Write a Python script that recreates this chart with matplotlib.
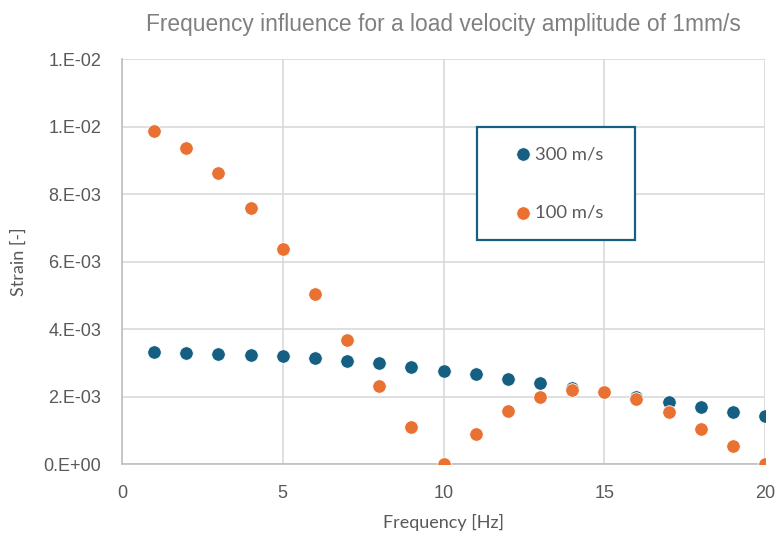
import matplotlib
matplotlib.use("Agg")
import matplotlib.pyplot as plt
from matplotlib.ticker import FixedLocator
from matplotlib.patches import Rectangle

freq = list(range(1, 21))
strain_300 = [3.32e-3, 3.29e-3, 3.26e-3, 3.23e-3, 3.20e-3, 3.14e-3, 3.05e-3, 2.99e-3, 2.87e-3, 2.76e-3,
              2.67e-3, 2.52e-3, 2.40e-3, 2.25e-3, 2.13e-3, 1.99e-3, 1.84e-3, 1.69e-3, 1.54e-3, 1.42e-3]
strain_100 = [9.87e-3, 9.36e-3, 8.62e-3, 7.59e-3, 6.37e-3, 5.04e-3, 3.67e-3, 2.31e-3, 1.10e-3, 0.0,
              0.89e-3, 1.57e-3, 1.99e-3, 2.19e-3, 2.13e-3, 1.93e-3, 1.54e-3, 1.04e-3, 0.53e-3, 0.0]
y_ticks = [0.0, 0.002, 0.004, 0.006, 0.008, 0.010, 0.012]
y_tick_labels = ["0.E+00", "2.E-03", "4.E-03", "6.E-03", "8.E-03", "1.E-02", "1.E-02"]
x_ticks = [0, 5, 10, 15, 20]

blue = "#156082"
orange = "#E97132"
txt = "#595959"

fig = plt.figure(figsize=(7.77, 5.36), dpi=100)
ax = fig.add_axes([0.157, 0.1343, 0.8276, 0.7556])

ax.scatter(freq, strain_300, s=95, color=blue, edgecolors="white", linewidths=0.6, zorder=3, label="300 m/s")
ax.scatter(freq, strain_100, s=95, color=orange, edgecolors="white", linewidths=0.6, zorder=3, label="100 m/s")

ax.set_xlim(0, 20)
ax.set_ylim(0, 0.012)
ax.xaxis.set_major_locator(FixedLocator(x_ticks))
ax.set_yticks(y_ticks)
ax.set_yticklabels(y_tick_labels)
ax.grid(True, color="#d9d9d9", linewidth=1.2, zorder=0)
ax.set_axisbelow(True)
for s in ["top", "right"]:
    ax.spines[s].set_visible(False)
for s in ["left", "bottom"]:
    ax.spines[s].set_color("#bfbfbf")
    ax.spines[s].set_linewidth(1.2)
ax.tick_params(axis="both", length=0, labelsize=13, colors=txt, labelfontfamily="Liberation Sans")
ax.tick_params(axis="y", pad=15)
ax.tick_params(axis="x", pad=15)

ax.set_title("Frequency influence for a load velocity amplitude of 1mm/s", fontsize=16.4,
             color="#808080", pad=20, fontfamily="Liberation Sans")
ax.set_xlabel("Frequency [Hz]", fontsize=13, color=txt, labelpad=9, fontfamily="Lato")
ax.set_ylabel("Strain [-]", fontsize=13, color=txt, labelpad=12, fontfamily="Lato")

# legend frame
ax.add_patch(Rectangle((0.552, 0.553), 0.2457, 0.279, transform=ax.transAxes, facecolor="white",
                       edgecolor=blue, linewidth=1.6, zorder=4, clip_on=False))
leg = ax.legend(loc="upper left", bbox_to_anchor=(0.6096, 0.785), frameon=False,
                labelspacing=2.3, handletextpad=0.12, borderpad=0, markerscale=1.0,
                prop={"family": "Lato", "size": 13.3}, borderaxespad=0, handlelength=1.0)
leg.set_zorder(5)
for t in leg.get_texts():
    t.set_color(txt)

fig.savefig("out.png", dpi=100)
